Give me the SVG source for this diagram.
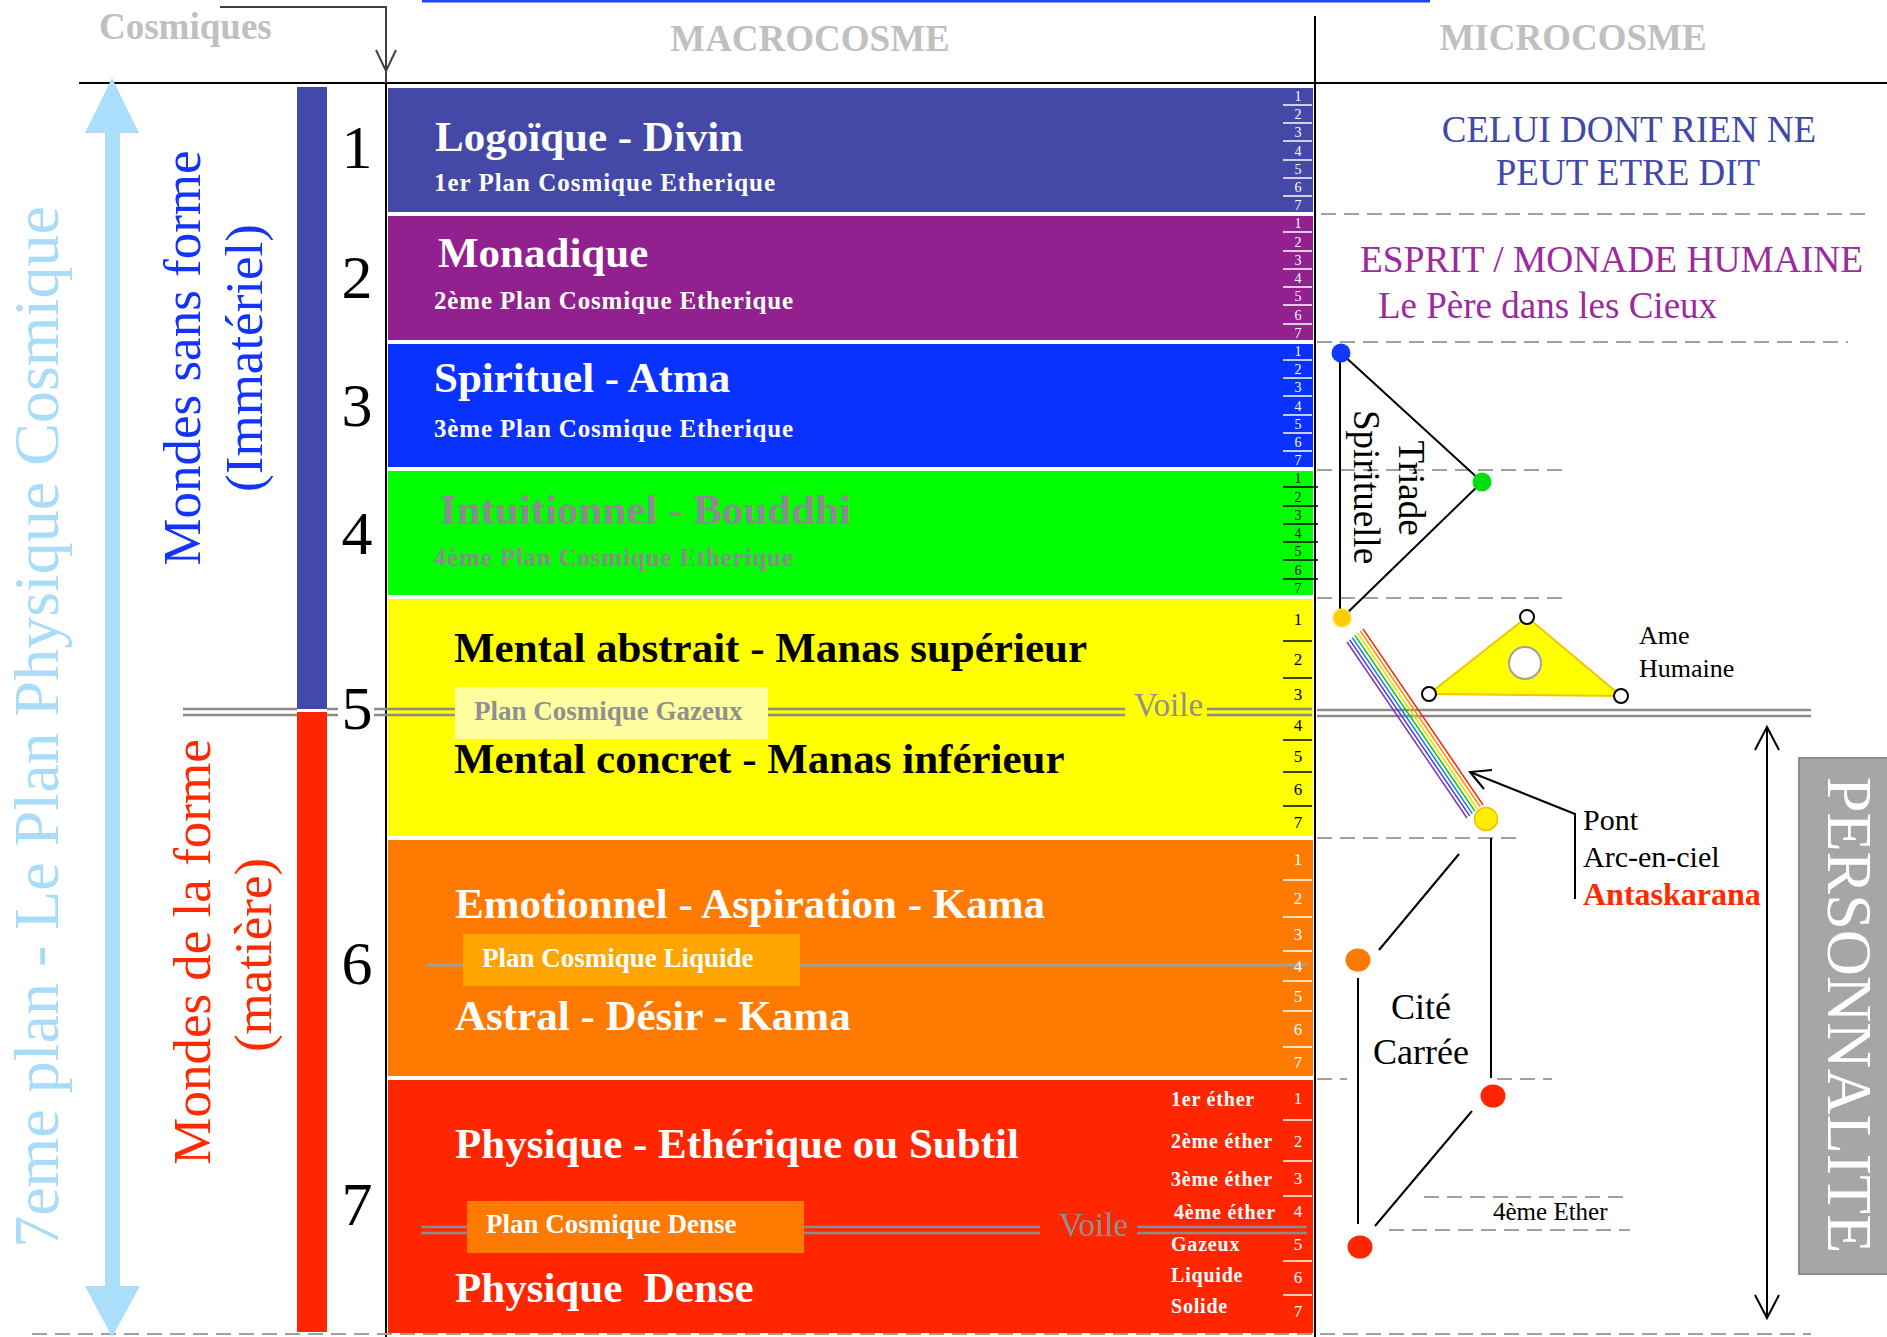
<svg xmlns="http://www.w3.org/2000/svg" width="1887" height="1337" viewBox="0 0 1887 1337">
<style>
text{font-family:"Liberation Serif","Times New Roman",serif}
.t{font-size:43px;font-weight:bold}
.s{font-size:25px;font-weight:bold}
.big{font-size:62px;text-anchor:middle;fill:#000}
.n{font-size:14px;text-anchor:middle}
.n2{font-size:17px;text-anchor:middle}
.w{fill:#fff}
.k{fill:#000}
.g{fill:#8c8c8c}
.hd{font-size:37px;font-weight:bold;fill:#c0c0c0}
.tw{stroke:#fff;stroke-width:1.5}
.tk{stroke:#000;stroke-width:1.5}
.dash{stroke:#a0a0a0;stroke-width:2;stroke-dasharray:15 8;fill:none}
.vl{stroke:#8c8c8c;stroke-width:2.5;fill:none}
.ln{stroke:#000;stroke-width:2;fill:none}
.eth{font-size:20px;font-weight:bold;fill:#fff;letter-spacing:0.8px}
.lab{font-size:30px;fill:#000}
.pc{font-size:27px;font-weight:bold}
</style>

<rect x="422" y="0" width="1008" height="2.5" fill="#2244ff"/>

<g id="headers">
<text x="99" y="39" class="hd">Cosmiques</text>
<text x="810" y="51" class="hd" text-anchor="middle">MACROCOSME</text>
<text x="1573" y="50" class="hd" text-anchor="middle">MICROCOSME</text>
</g>

<g id="frame">
<line x1="79" y1="83" x2="1887" y2="83" stroke="#000" stroke-width="2"/>
<line x1="1315" y1="16" x2="1315" y2="1337" stroke="#000" stroke-width="2"/>
<line x1="386" y1="83" x2="386" y2="1337" stroke="#000" stroke-width="2"/>
<line x1="32" y1="1334" x2="1811" y2="1334" class="dash"/>
</g>

<g id="left-axis">
<polygon points="112,78 139,133 120,133 120,1286 140,1286 112,1337 85,1286 105,1286 105,133 85,133" fill="#aadefa"/>
<text transform="translate(58,727) rotate(-90)" font-size="64" fill="#a9dcf9" text-anchor="middle">7eme plan - Le Plan Physique Cosmique</text>
<text transform="translate(200,358) rotate(-90)" font-size="53" fill="#1533ff" text-anchor="middle">Mondes sans forme</text>
<text transform="translate(262,358) rotate(-90)" font-size="53" fill="#1533ff" text-anchor="middle">(Immatériel)</text>
<text transform="translate(210,952) rotate(-90)" font-size="53" fill="#ff2a00" text-anchor="middle">Mondes de la forme</text>
<text transform="translate(271,955) rotate(-90)" font-size="53" fill="#ff2a00" text-anchor="middle">(matière)</text>
<rect x="297" y="87" width="30" height="622" fill="#4349a8"/>
<rect x="297" y="712" width="30" height="620" fill="#ff2600"/>
<text x="357" y="168" class="big">1</text>
<text x="357" y="298" class="big">2</text>
<text x="357" y="426" class="big">3</text>
<text x="357" y="554" class="big">4</text>
<text x="357" y="729" class="big">5</text>
<text x="357" y="984" class="big">6</text>
<text x="357" y="1225" class="big">7</text>
</g>

<g id="plane-1">
<rect x="388" y="88" width="925" height="124" fill="#4449a8"/>
<text x="435" y="151" class="t w">Logoïque - Divin</text>
<text x="434" y="191" class="s w" textLength="341" lengthAdjust="spacing">1er Plan Cosmique Etherique</text>
<g class="tw"><line x1="1283" y1="105" x2="1312" y2="105"/><line x1="1283" y1="123" x2="1312" y2="123"/><line x1="1283" y1="141" x2="1312" y2="141"/><line x1="1283" y1="160" x2="1312" y2="160"/><line x1="1283" y1="178" x2="1312" y2="178"/><line x1="1283" y1="196" x2="1312" y2="196"/></g>
<g class="n w"><text x="1298" y="101">1</text><text x="1298" y="119">2</text><text x="1298" y="137">3</text><text x="1298" y="156">4</text><text x="1298" y="174">5</text><text x="1298" y="192">6</text><text x="1298" y="210">7</text></g>
</g>

<g id="plane-2">
<rect x="388" y="216" width="925" height="124" fill="#92208f"/>
<text x="438" y="267" class="t w">Monadique</text>
<text x="434" y="309" class="s w" textLength="359" lengthAdjust="spacing">2ème Plan Cosmique Etherique</text>
<g class="tw"><line x1="1283" y1="232" x2="1312" y2="232"/><line x1="1283" y1="251" x2="1312" y2="251"/><line x1="1283" y1="269" x2="1312" y2="269"/><line x1="1283" y1="287" x2="1312" y2="287"/><line x1="1283" y1="305" x2="1312" y2="305"/><line x1="1283" y1="324" x2="1312" y2="324"/></g>
<g class="n w"><text x="1298" y="228">1</text><text x="1298" y="247">2</text><text x="1298" y="265">3</text><text x="1298" y="283">4</text><text x="1298" y="301">5</text><text x="1298" y="320">6</text><text x="1298" y="338">7</text></g>
</g>

<g id="plane-3">
<rect x="388" y="344" width="925" height="123" fill="#0a32ff"/>
<text x="434" y="392" class="t w">Spirituel - Atma</text>
<text x="434" y="437" class="s w" textLength="359" lengthAdjust="spacing">3ème Plan Cosmique Etherique</text>
<g class="tw"><line x1="1283" y1="360" x2="1312" y2="360"/><line x1="1283" y1="378" x2="1312" y2="378"/><line x1="1283" y1="396" x2="1312" y2="396"/><line x1="1283" y1="415" x2="1312" y2="415"/><line x1="1283" y1="433" x2="1312" y2="433"/><line x1="1283" y1="451" x2="1312" y2="451"/></g>
<g class="n w"><text x="1298" y="356">1</text><text x="1298" y="374">2</text><text x="1298" y="392">3</text><text x="1298" y="411">4</text><text x="1298" y="429">5</text><text x="1298" y="447">6</text><text x="1298" y="465">7</text></g>
</g>

<g id="plane-4">
<rect x="388" y="471" width="925" height="124" fill="#00ff00"/>
<text x="440" y="524" class="t g">Intuitionnel - Bouddhi</text>
<text x="434" y="566" class="s g" textLength="359" lengthAdjust="spacing">4ème Plan Cosmique Etherique</text>
<g class="tk"><line x1="1283" y1="487" x2="1318" y2="487"/><line x1="1283" y1="506" x2="1318" y2="506"/><line x1="1283" y1="524" x2="1318" y2="524"/><line x1="1283" y1="542" x2="1318" y2="542"/><line x1="1283" y1="560" x2="1318" y2="560"/><line x1="1283" y1="579" x2="1318" y2="579"/></g>
<g class="n k"><text x="1298" y="483">1</text><text x="1298" y="502">2</text><text x="1298" y="520">3</text><text x="1298" y="538">4</text><text x="1298" y="556">5</text><text x="1298" y="575">6</text><text x="1298" y="593">7</text></g>
</g>

<g id="plane-5">
<rect x="388" y="599" width="925" height="237" fill="#ffff00"/>
<text x="454" y="662" class="t k">Mental abstrait - Manas supérieur</text>
<text x="454" y="773" class="t k">Mental concret - Manas inférieur</text>
<g class="tk"><line x1="1283" y1="641" x2="1312" y2="641"/><line x1="1283" y1="678" x2="1312" y2="678"/><line x1="1283" y1="740" x2="1312" y2="740"/><line x1="1283" y1="772" x2="1312" y2="772"/><line x1="1283" y1="806" x2="1312" y2="806"/></g>
<g class="n2 k"><text x="1298" y="625">1</text><text x="1298" y="665">2</text><text x="1298" y="700">3</text><text x="1298" y="731">4</text><text x="1298" y="762">5</text><text x="1298" y="795">6</text><text x="1298" y="828">7</text></g>
</g>

<g id="plane-6">
<rect x="388" y="840" width="925" height="236" fill="#ff7a00"/>
<line x1="427" y1="965" x2="1307" y2="965" stroke="#a0a0a0" stroke-width="3"/>
<text x="455" y="918" class="t w">Emotionnel - Aspiration - Kama</text>
<text x="455" y="1030" class="t w">Astral - Désir - Kama</text>
<g class="tw"><line x1="1283" y1="880" x2="1312" y2="880"/><line x1="1283" y1="917" x2="1312" y2="917"/><line x1="1283" y1="951" x2="1312" y2="951"/><line x1="1283" y1="981" x2="1312" y2="981"/><line x1="1283" y1="1011" x2="1312" y2="1011"/><line x1="1283" y1="1047" x2="1312" y2="1047"/></g>
<g class="n2 w"><text x="1298" y="865">1</text><text x="1298" y="904">2</text><text x="1298" y="940">3</text><text x="1298" y="972">4</text><text x="1298" y="1002">5</text><text x="1298" y="1035">6</text><text x="1298" y="1068">7</text></g>
</g>

<g id="plane-7">
<rect x="388" y="1080" width="925" height="253" fill="#ff2600"/>
<text x="455" y="1158" class="t w">Physique - Ethérique ou Subtil</text>
<text x="455" y="1302" class="t w" xml:space="preserve">Physique  Dense</text>
<text x="1171" y="1106" class="eth">1er éther</text>
<text x="1171" y="1148" class="eth">2ème éther</text>
<text x="1171" y="1186" class="eth">3ème éther</text>
<text x="1174" y="1219" class="eth">4ème éther</text>
<text x="1171" y="1251" class="eth">Gazeux</text>
<text x="1171" y="1282" class="eth">Liquide</text>
<text x="1171" y="1313" class="eth">Solide</text>
<g class="tw"><line x1="1283" y1="1120" x2="1312" y2="1120"/><line x1="1283" y1="1161" x2="1312" y2="1161"/><line x1="1283" y1="1196" x2="1312" y2="1196"/><line x1="1283" y1="1261" x2="1312" y2="1261"/><line x1="1283" y1="1295" x2="1312" y2="1295"/></g>
<g class="n2 w"><text x="1298" y="1104">1</text><text x="1298" y="1147">2</text><text x="1298" y="1184">3</text><text x="1298" y="1217">4</text><text x="1298" y="1250">5</text><text x="1298" y="1283">6</text><text x="1298" y="1317">7</text></g>
</g>

<g id="voile-gazeux">
<g class="vl">
<path d="M183,709 H297 M183,715 H297"/>
<path d="M327,709 H338 M327,715 H338"/>
<path d="M374,709 H455 M374,715 H455"/>
<path d="M768,709 H1125 M768,715 H1125"/>
<path d="M1207,709 H1312 M1207,715 H1312"/>
<path d="M1317,710 H1811 M1317,716 H1811"/>
</g>
<rect x="455" y="687" width="313" height="52" fill="#ffffa0"/>
<text x="474" y="720" class="pc" fill="#909090">Plan Cosmique Gazeux</text>
<text x="1134" y="716" font-size="33" fill="#909090">Voile</text>
</g>

<g id="plan-liquide">
<rect x="463" y="934" width="337" height="52" fill="#ffa500"/>
<text x="482" y="967" class="pc" fill="#fff">Plan Cosmique Liquide</text>
</g>

<g id="voile-dense">
<g class="vl">
<path d="M421,1227 H467 M421,1233 H467"/>
<path d="M804,1227 H1040 M804,1233 H1040"/>
<path d="M1137,1227 H1307 M1137,1233 H1307"/>
</g>
<rect x="467" y="1201" width="337" height="52" fill="#ff7a00"/>
<text x="486" y="1233" class="pc" fill="#fff">Plan Cosmique Dense</text>
<text x="1059" y="1236" font-size="33" fill="#909090">Voile</text>
</g>

<g id="connectors">
<polyline points="220,7 386,7 386,83" fill="none" stroke="#404040" stroke-width="2"/>
<polyline points="376,50 386,71 396,50" fill="none" stroke="#404040" stroke-width="2"/>
<line x1="1321" y1="214" x2="1866" y2="214" class="dash"/>
<line x1="1317" y1="342" x2="1848" y2="342" class="dash"/>
<line x1="1317" y1="470" x2="1566" y2="470" class="dash"/>
<line x1="1317" y1="598" x2="1566" y2="598" class="dash"/>
<line x1="1317" y1="838" x2="1519" y2="838" class="dash"/>
<line x1="1317" y1="1079" x2="1347" y2="1079" class="dash"/>
<line x1="1497" y1="1079" x2="1552" y2="1079" class="dash"/>
<line x1="1424" y1="1197" x2="1630" y2="1197" class="dash"/>
<line x1="1389" y1="1230" x2="1630" y2="1230" class="dash"/>
<line x1="1340" y1="353" x2="1340" y2="612" class="ln"/>
<line x1="1341" y1="353" x2="1482" y2="482" class="ln"/>
<line x1="1482" y1="482" x2="1344" y2="616" class="ln"/>
<line x1="1491" y1="838" x2="1491" y2="1078" class="ln"/>
<line x1="1379" y1="950" x2="1459" y2="854" class="ln"/>
<line x1="1358" y1="978" x2="1358" y2="1224" class="ln"/>
<line x1="1375" y1="1226" x2="1472" y2="1111" class="ln"/>
<polyline points="1575,899 1575,814 1470,772" class="ln"/>
<polyline points="1484,789 1470,772 1492,770" class="ln"/>
<line x1="1767" y1="727" x2="1767" y2="1318" class="ln"/>
<polyline points="1755,750 1767,727 1779,750" class="ln"/>
<polyline points="1755,1295 1767,1318 1779,1295" class="ln"/>
</g>

<g id="celui">
<text x="1629" y="142" font-size="37" fill="#4048a8" text-anchor="middle">CELUI DONT RIEN NE</text>
<text x="1628" y="185" font-size="37" fill="#4048a8" text-anchor="middle">PEUT ETRE DIT</text>
</g>

<g id="esprit">
<text x="1360" y="272" font-size="37.4" fill="#9b2a9c">ESPRIT / MONADE HUMAINE</text>
<text x="1378" y="318" font-size="37" fill="#9b2a9c">Le Père dans les Cieux</text>
</g>

<g id="triade">
<circle cx="1341" cy="353" r="9.5" fill="#1437ff"/>
<circle cx="1482" cy="482" r="9.5" fill="#00e010"/>
<circle cx="1342" cy="618" r="9" fill="#ffcc00" stroke="#ffe14d" stroke-width="1.5"/>
<text transform="translate(1399,488) rotate(90)" font-size="37" text-anchor="middle" fill="#000">Triade</text>
<text transform="translate(1354,487) rotate(90)" font-size="37" text-anchor="middle" fill="#000">Spirituelle</text>
</g>

<g id="ame-humaine">
<polygon points="1527,617 1429,694 1621,696" fill="#ffff00" stroke="#f5c400" stroke-width="2"/>
<circle cx="1527" cy="617" r="7" fill="#fff" stroke="#000" stroke-width="2"/>
<circle cx="1429" cy="694" r="7" fill="#fff" stroke="#000" stroke-width="2"/>
<circle cx="1621" cy="696" r="7" fill="#fff" stroke="#000" stroke-width="2"/>
<circle cx="1525" cy="663" r="16" fill="#fff" stroke="#a0a0a0" stroke-width="2"/>
<text x="1639" y="644" font-size="26" fill="#000">Ame</text>
<text x="1639" y="677" font-size="26" fill="#000">Humaine</text>
</g>

<g id="antaskarana" stroke-width="1.5" fill="none">
<line x1="1347" y1="642" x2="1467" y2="818" stroke="#8030c0"/>
<line x1="1349.7" y1="639.8" x2="1469.7" y2="815.8" stroke="#4040e0"/>
<line x1="1352.3" y1="637.6" x2="1472.3" y2="813.6" stroke="#2070ff"/>
<line x1="1355" y1="635.4" x2="1475" y2="811.4" stroke="#00d000"/>
<line x1="1357.7" y1="633.2" x2="1477.7" y2="809.2" stroke="#f0d800"/>
<line x1="1360.3" y1="631" x2="1480.3" y2="807" stroke="#ff9000"/>
<line x1="1363" y1="628.8" x2="1483" y2="804.8" stroke="#ff2000"/>
</g>

<g id="pont">
<circle cx="1486" cy="819" r="11.5" fill="#ffee00" stroke="#f0c000" stroke-width="1.5"/>
<text x="1583" y="830" class="lab">Pont</text>
<text x="1583" y="867" class="lab">Arc-en-ciel</text>
<text x="1583" y="905" font-size="32" font-weight="bold" fill="#ff2a00">Antaskarana</text>
</g>

<g id="cite-carree">
<ellipse cx="1358" cy="960" rx="12.5" ry="11.5" fill="#ff7a00"/>
<ellipse cx="1493" cy="1096" rx="12.5" ry="11.5" fill="#ff2600"/>
<ellipse cx="1360" cy="1247" rx="12.5" ry="11.5" fill="#ff2600"/>
<text x="1421" y="1019" font-size="36" fill="#000" text-anchor="middle">Cité</text>
<text x="1421" y="1064" font-size="36" fill="#000" text-anchor="middle">Carrée</text>
</g>

<g id="ether4">
<text x="1493" y="1220" font-size="25" fill="#000">4ème Ether</text>
</g>

<g id="personnalite">
<rect x="1799" y="758" width="90" height="516" fill="#a6a6a6" stroke="#8c8c8c" stroke-width="2"/>
<text transform="translate(1828,1015) rotate(90)" font-size="64" fill="#fff" text-anchor="middle">PERSONNALITE</text>
</g>
</svg>
